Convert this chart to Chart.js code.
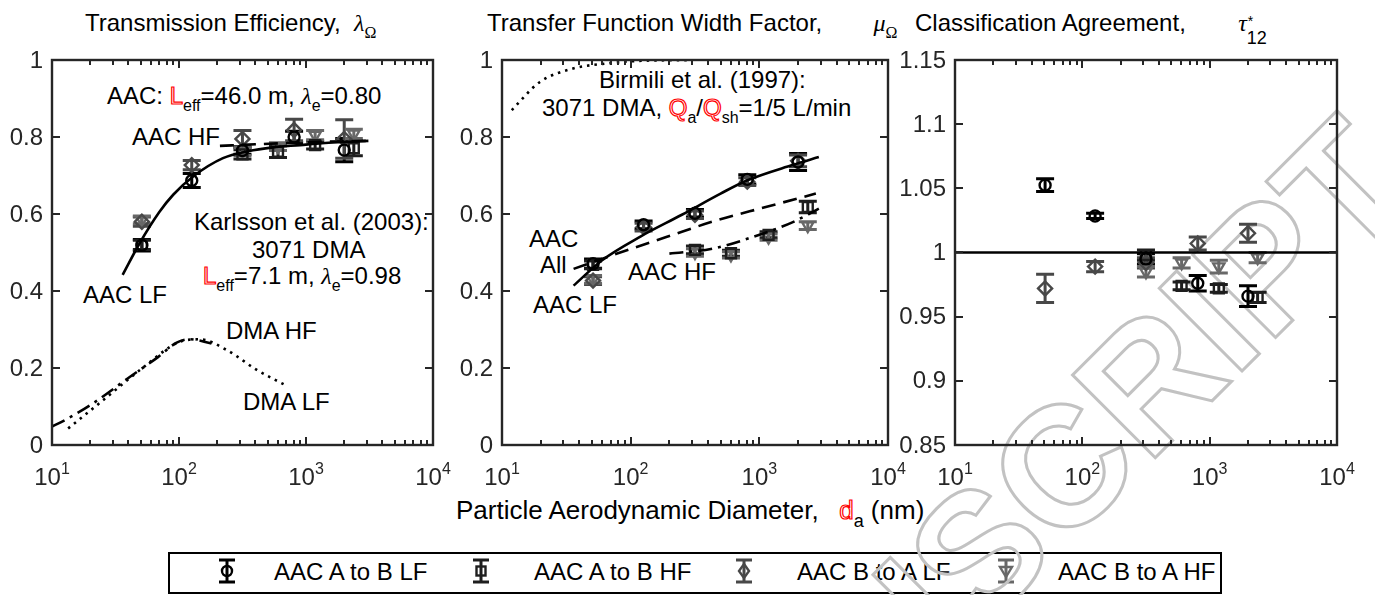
<!DOCTYPE html>
<html>
<head>
<meta charset="utf-8">
<script src="https://cdn.jsdelivr.net/npm/chart.js@4.4.0/dist/chart.umd.min.js"></script>
<style>
html,body{margin:0;padding:0;background:#fff;}
#wrap{position:relative;width:1375px;height:595px;overflow:hidden;background:#fff;}
canvas{position:absolute;left:0;top:0;z-index:3;}
#wm{position:absolute;left:0;top:0;z-index:2;}
#leg{position:absolute;left:0;top:0;z-index:2;}
.t{position:absolute;z-index:1;font-family:'Liberation Sans',Arial,sans-serif;font-size:24px;line-height:24px;white-space:pre;color:#000;}
.sb{font-size:16px;position:relative;top:7px;}
.dbl{color:transparent;-webkit-text-stroke:1.2px #ff0000;}
.gr{font-family:'Liberation Serif','DejaVu Serif',serif;font-style:italic;}
.gs{font-family:'Liberation Serif','DejaVu Serif',serif;}
#legbox{position:absolute;z-index:1;left:168px;top:552px;width:1050px;height:38px;border:2px solid #000;}
</style>
</head>
<body>
<div id="wrap">
  <!-- titles -->
  <div class="t" style="left:85px;top:11px">Transmission Efficiency,  <span class="gr">λ</span><span class="sb gs">Ω</span></div>
  <div class="t" style="left:487px;top:11px">Transfer Function Width Factor,  <span class="gr" style="margin-left:38px">μ</span><span class="sb gs">Ω</span></div>
  <div class="t" style="left:915px;top:11px">Classification Agreement,  <span class="gr" style="margin-left:39px">τ</span><span style="position:relative;display:inline-block;width:20px;height:10px"><span style="position:absolute;left:1px;top:-12px;font-size:14px">*</span><span style="position:absolute;left:0;top:5px;font-size:18px">12</span></span></div>

  <!-- panel 1 annotations -->
  <div class="t" style="left:107px;top:84px">AAC: <span class="dbl">L</span><span class="sb">eff</span>=46.0 m, <span class="gr">λ</span><span class="sb">e</span>=0.80</div>
  <div class="t" style="left:132px;top:125px">AAC HF</div>
  <div class="t" style="left:194px;top:210px">Karlsson et al. (2003):</div>
  <div class="t" style="left:252px;top:238px">3071 DMA</div>
  <div class="t" style="left:203px;top:264px"><span class="dbl">L</span><span class="sb">eff</span>=7.1 m, <span class="gr">λ</span><span class="sb">e</span>=0.98</div>
  <div class="t" style="left:83px;top:283px">AAC LF</div>
  <div class="t" style="left:226px;top:319px">DMA HF</div>
  <div class="t" style="left:243px;top:390px">DMA LF</div>

  <!-- panel 2 annotations -->
  <div class="t" style="left:599px;top:68px">Birmili et al. (1997):</div>
  <div class="t" style="left:542px;top:96px">3071 DMA, <span class="dbl">Q</span><span class="sb">a</span>/<span class="dbl">Q</span><span class="sb">sh</span>=1/5 L/min</div>
  <div class="t" style="left:529px;top:227px">AAC</div>
  <div class="t" style="left:540px;top:253px">All</div>
  <div class="t" style="left:628px;top:260px">AAC HF</div>
  <div class="t" style="left:533px;top:293px">AAC LF</div>

  <!-- x axis label -->
  <div class="t" style="left:456px;top:497px;font-size:26px;line-height:26px">Particle Aerodynamic Diameter,  <span class="dbl" style="margin-left:6px">d</span><span class="sb" style="font-size:18px;top:8px">a</span> (nm)</div>

  <!-- legend -->
  <div id="legbox"></div>
  <div class="t" style="left:274px;top:560px">AAC A to B LF</div>
  <div class="t" style="left:534px;top:560px">AAC A to B HF</div>
  <div class="t" style="left:797px;top:560px">AAC B to A LF</div>
  <div class="t" style="left:1058px;top:560px">AAC B to A HF</div>
  <svg id="leg" width="1375" height="595"></svg>

  <!-- watermark -->
  <svg id="wm" width="1375" height="595">
    <text x="1421" y="192" transform="rotate(-45 1421 192)" text-anchor="end"
      font-family="Liberation Sans, Arial, sans-serif" font-size="170" font-weight="bold"
      fill="none" stroke="#c2c2c2" stroke-width="3">ACCEPTED MANUSCRIPT</text>
  </svg>

  <canvas id="c1" width="1375" height="595"></canvas>
  <canvas id="c2" width="1375" height="595"></canvas>
  <canvas id="c3" width="1375" height="595"></canvas>
</div>

<script>
// ---------------- DATA ----------------
// particle aerodynamic diameters (nm)
const LF_X = [51, 126, 316, 806, 2000];
const HF_X = [51, 316, 602, 1180, 2380];

// axis ticks
const X_TICKS = [10, 100, 1000, 10000];
const X_TICK_EXP = ['1', '2', '3', '4'];
const Y_TICKS_01 = [0, 0.2, 0.4, 0.6, 0.8, 1];
const Y_LABELS_01 = ['0', '0.2', '0.4', '0.6', '0.8', '1'];
const Y_TICKS_3 = [0.85, 0.9, 0.95, 1, 1.05, 1.1, 1.15];
const Y_LABELS_3 = ['0.85', '0.9', '0.95', '1', '1.05', '1.1', '1.15'];

// legend series names
const SERIES_NAMES = ['AAC A to B LF', 'AAC A to B HF', 'AAC B to A LF', 'AAC B to A HF'];

// Panel 1: transmission efficiency
const p1_AB_LF = [0.519, 0.687, 0.765, 0.800, 0.766];
const p1_AB_LF_err = [0.015, 0.018, 0.010, 0.015, 0.030];
const p1_BA_LF = [0.580, 0.727, 0.795, 0.818, 0.795];
const p1_BA_LF_err = [0.012, 0.012, 0.022, 0.028, 0.050];
const p1_AB_HF = [0.520, 0.755, 0.762, 0.779, 0.771];
const p1_AB_HF_err = [0.012, 0.012, 0.015, 0.010, 0.020];
const p1_BA_HF = [0.585, 0.762, 0.775, 0.805, 0.808];
const p1_BA_HF_err = [0.010, 0.010, 0.010, 0.012, 0.012];

const p1_LF_fit_x = [36, 49, 70, 90, 130, 222, 350, 550, 900, 1340, 2000, 3100];
const p1_LF_fit_y = [0.442, 0.524, 0.605, 0.650, 0.698, 0.745, 0.763, 0.773, 0.779, 0.784, 0.787, 0.790];
const p1_HF_fit_x = [210, 400, 800, 1500, 3100];
const p1_HF_fit_y = [0.777, 0.781, 0.785, 0.788, 0.790];
const p1_DMA_HF_x = [10, 12.7, 21.2, 39.9, 68.7, 95.9, 122, 180];
const p1_DMA_HF_y = [0.048, 0.065, 0.109, 0.174, 0.229, 0.266, 0.2745, 0.264];
const p1_DMA_LF_x = [13.4, 25.4, 49.4, 101.6, 146, 237, 410, 683];
const p1_DMA_LF_y = [0.043, 0.117, 0.195, 0.268, 0.2745, 0.247, 0.195, 0.156];

// Panel 2: transfer function width factor
const p2_AB_LF = [0.471, 0.572, 0.602, 0.690, 0.735];
const p2_AB_LF_err = [0.012, 0.010, 0.010, 0.012, 0.022];
const p2_BA_LF = [0.427, 0.566, 0.598, 0.684, 0.738];
const p2_BA_LF_err = [0.010, 0.010, 0.010, 0.010, 0.015];
const p2_AB_HF = [0.468, 0.507, 0.498, 0.546, 0.618];
const p2_AB_HF_err = [0.010, 0.010, 0.008, 0.008, 0.015];
const p2_BA_HF = [0.430, 0.500, 0.494, 0.540, 0.570];
const p2_BA_HF_err = [0.010, 0.010, 0.008, 0.008, 0.010];

const p2_LF_fit_x = [36, 60, 120, 250, 500, 800, 1800, 2900];
const p2_LF_fit_y = [0.414, 0.480, 0.542, 0.598, 0.653, 0.687, 0.727, 0.748];
const p2_All_fit_x = [36, 77.5, 189, 460, 1122, 2750];
const p2_All_fit_y = [0.4575, 0.4965, 0.540, 0.583, 0.618, 0.653];
const p2_HF_fit_x = [200, 432, 884, 1823, 2900];
const p2_HF_fit_y = [0.497, 0.510, 0.540, 0.579, 0.614];
const p2_Birmili_x = [11.9, 19.7, 35.7, 64.9, 104, 300];
const p2_Birmili_y = [0.870, 0.943, 0.978, 0.991, 0.997, 1.0];

// Panel 3: classification agreement
const p3_AB_LF = [1.0525, 1.0285, 0.995, 0.976, 0.966];
const p3_AB_LF_err = [0.005, 0.002, 0.004, 0.006, 0.008];
const p3_BA_LF = [0.972, 0.989, 0.992, 1.007, 1.015];
const p3_BA_LF_err = [0.011, 0.004, 0.004, 0.005, 0.007];
const p3_AB_HF = [null, 0.998, 0.974, 0.972, 0.965];
const p3_AB_HF_err = [0, 0.004, 0.003, 0.003, 0.004];
const p3_BA_HF = [null, 0.985, 0.992, 0.989, 0.996];
const p3_BA_HF_err = [0, 0.004, 0.004, 0.005, 0.004];
const p3_ref_x = [10, 10000];
const p3_ref_y = [1, 1];

// ---------------- STYLES ----------------
const COLORS = ['#000000', '#1e1e1e', '#484848', '#686868'];
const FRAME = '#262626';
const FONT = '"Liberation Sans", Arial, sans-serif';

function pts(xs, ys, es) {
  const out = [];
  xs.forEach((x, i) => { if (ys[i] != null) out.push({x: x, y: ys[i], e: es ? es[i] : 0}); });
  return out;
}
function markers(xs, ys, es, k) {
  const styles = ['circle', 'rect', 'rectRot', 'triangle'];
  const radii = [5.5, 7, 7, 6.5];
  return {
    data: pts(xs, ys, es), showLine: false, errorBars: true,
    pointStyle: styles[k], pointRadius: radii[k], rotation: k === 3 ? 180 : 0,
    borderColor: COLORS[k], backgroundColor: 'rgba(0,0,0,0)', pointBorderWidth: 2.4,
    clip: false, order: 1
  };
}
function curve(xs, ys, dash) {
  return {
    data: pts(xs, ys), showLine: true, pointRadius: 0, borderColor: '#000',
    borderWidth: 2.6, borderDash: dash, cubicInterpolationMode: 'monotone', fill: false, order: 0
  };
}

const errorBarPlugin = {
  id: 'errorBarPlugin',
  beforeDatasetsDraw(chart) {
    const ctx = chart.ctx, xs = chart.scales.x, ys = chart.scales.y;
    ctx.save();
    chart.data.datasets.forEach(ds => {
      if (!ds.errorBars) return;
      ctx.strokeStyle = ds.borderColor; ctx.lineWidth = 3;
      ds.data.forEach(p => {
        if (!p.e) return;
        const px = xs.getPixelForValue(p.x);
        const y1 = ys.getPixelForValue(p.y - p.e), y2 = ys.getPixelForValue(p.y + p.e);
        ctx.beginPath();
        ctx.moveTo(px, y1); ctx.lineTo(px, y2);
        ctx.moveTo(px - 9, y1); ctx.lineTo(px + 9, y1);
        ctx.moveTo(px - 9, y2); ctx.lineTo(px + 9, y2);
        ctx.stroke();
      });
    });
    ctx.restore();
  }
};

const axesBoxPlugin = {
  id: 'axesBox',
  afterDraw(chart, args, opts) {
    const ctx = chart.ctx, a = chart.chartArea, xs = chart.scales.x, ys = chart.scales.y;
    ctx.save();
    ctx.strokeStyle = FRAME; ctx.lineWidth = 2.4;
    ctx.strokeRect(a.left, a.top, a.right - a.left, a.bottom - a.top);
    ctx.lineWidth = 2;
    ctx.beginPath();
    // x ticks (log, major + minor)
    for (let d = 0; d < X_TICKS.length - 1; d++) {
      for (let m = 1; m < 10; m++) {
        const v = X_TICKS[d] * m;
        const px = Math.round(xs.getPixelForValue(v));
        const len = m === 1 ? 8 : 5;
        ctx.moveTo(px, a.bottom); ctx.lineTo(px, a.bottom - len);
        ctx.moveTo(px, a.top); ctx.lineTo(px, a.top + len);
      }
    }
    // y ticks
    opts.yTicks.forEach(v => {
      const py = Math.round(ys.getPixelForValue(v));
      ctx.moveTo(a.left, py); ctx.lineTo(a.left + 8, py);
      ctx.moveTo(a.right, py); ctx.lineTo(a.right - 8, py);
    });
    ctx.stroke();
    // y labels
    ctx.fillStyle = FRAME;
    ctx.font = '24px ' + FONT; ctx.textAlign = 'right'; ctx.textBaseline = 'middle';
    opts.yTicks.forEach((v, i) => {
      ctx.fillText(opts.yLabels[i], a.left - 9, ys.getPixelForValue(v) + 1);
    });
    // x labels 10^k
    ctx.textAlign = 'left'; ctx.textBaseline = 'alphabetic';
    X_TICKS.forEach((v, i) => {
      const px = xs.getPixelForValue(v);
      ctx.font = '24px ' + FONT; const w1 = ctx.measureText('10').width;
      ctx.font = '16px ' + FONT; const w2 = ctx.measureText(X_TICK_EXP[i]).width;
      const x0 = px - (w1 + w2) / 2;
      ctx.font = '24px ' + FONT; ctx.fillText('10', x0, 485);
      ctx.font = '16px ' + FONT; ctx.fillText(X_TICK_EXP[i], x0 + w1, 474);
    });
    ctx.restore();
  }
};

function makeChart(id, pad, yMin, yMax, yTicks, yLabels, datasets) {
  return new Chart(document.getElementById(id), {
    type: 'scatter',
    data: {datasets: datasets},
    options: {
      responsive: false, animation: false, devicePixelRatio: 1, events: [],
      layout: {padding: pad},
      plugins: {legend: {display: false}, tooltip: {enabled: false}, axesBox: {yTicks: yTicks, yLabels: yLabels}},
      scales: {
        x: {type: 'logarithmic', min: 10, max: 10000, display: false},
        y: {type: 'linear', min: yMin, max: yMax, display: false}
      }
    },
    plugins: [errorBarPlugin, axesBoxPlugin]
  });
}

makeChart('c1', {left: 52, top: 60, right: 1375 - 433, bottom: 595 - 445}, 0, 1, Y_TICKS_01, Y_LABELS_01, [
  curve(p1_DMA_HF_x, p1_DMA_HF_y, [14, 6, 3, 6]),
  curve(p1_DMA_LF_x, p1_DMA_LF_y, [2.5, 5]),
  markers(LF_X, p1_AB_LF, p1_AB_LF_err, 0),
  markers(HF_X, p1_AB_HF, p1_AB_HF_err, 1),
  markers(LF_X, p1_BA_LF, p1_BA_LF_err, 2),
  markers(HF_X, p1_BA_HF, p1_BA_HF_err, 3),
  curve(p1_LF_fit_x, p1_LF_fit_y, []),
  curve(p1_HF_fit_x, p1_HF_fit_y, [14, 8])
]);

makeChart('c2', {left: 502, top: 60, right: 1375 - 888, bottom: 595 - 445}, 0, 1, Y_TICKS_01, Y_LABELS_01, [
  curve(p2_Birmili_x, p2_Birmili_y, [2.5, 5]),
  markers(LF_X, p2_AB_LF, p2_AB_LF_err, 0),
  markers(HF_X, p2_AB_HF, p2_AB_HF_err, 1),
  markers(LF_X, p2_BA_LF, p2_BA_LF_err, 2),
  markers(HF_X, p2_BA_HF, p2_BA_HF_err, 3),
  curve(p2_LF_fit_x, p2_LF_fit_y, []),
  curve(p2_All_fit_x, p2_All_fit_y, [14, 8]),
  curve(p2_HF_fit_x, p2_HF_fit_y, [14, 6, 3, 6])
]);

makeChart('c3', {left: 955, top: 60, right: 1375 - 1337, bottom: 595 - 445}, 0.85, 1.15, Y_TICKS_3, Y_LABELS_3, [
  curve(p3_ref_x, p3_ref_y, []),
  markers(LF_X, p3_AB_LF, p3_AB_LF_err, 0),
  markers(HF_X, p3_AB_HF, p3_AB_HF_err, 1),
  markers(LF_X, p3_BA_LF, p3_BA_LF_err, 2),
  markers(HF_X, p3_BA_HF, p3_BA_HF_err, 3)
]);

// ---------------- LEGEND ICONS ----------------
(function () {
  const svg = document.getElementById('leg');
  const NS = 'http://www.w3.org/2000/svg';
  const cx = [227, 481, 744, 1006], cy = 571;
  function el(tag, attrs) {
    const e = document.createElementNS(NS, tag);
    for (const k in attrs) e.setAttribute(k, attrs[k]);
    svg.appendChild(e); return e;
  }
  SERIES_NAMES.forEach((name, k) => {
    const c = COLORS[k], x = cx[k];
    el('path', {d: `M${x},${cy - 11}V${cy + 11}M${x - 8},${cy - 11}H${x + 8}M${x - 8},${cy + 11}H${x + 8}`,
      stroke: c, 'stroke-width': 3, fill: 'none'});
    if (k === 0) el('circle', {cx: x, cy: cy, r: 5, stroke: c, 'stroke-width': 2.4, fill: 'none'});
    if (k === 1) el('rect', {x: x - 4.5, y: cy - 4.5, width: 9, height: 9, stroke: c, 'stroke-width': 2.4, fill: 'none'});
    if (k === 2) el('path', {d: `M${x},${cy - 7}L${x + 5},${cy}L${x},${cy + 7}L${x - 5},${cy}Z`, stroke: c, 'stroke-width': 2.4, fill: 'none'});
    if (k === 3) el('path', {d: `M${x - 6},${cy - 4}L${x + 6},${cy - 4}L${x},${cy + 6}Z`, stroke: c, 'stroke-width': 2.4, fill: 'none'});
  });
})();
</script>
</body>
</html>
